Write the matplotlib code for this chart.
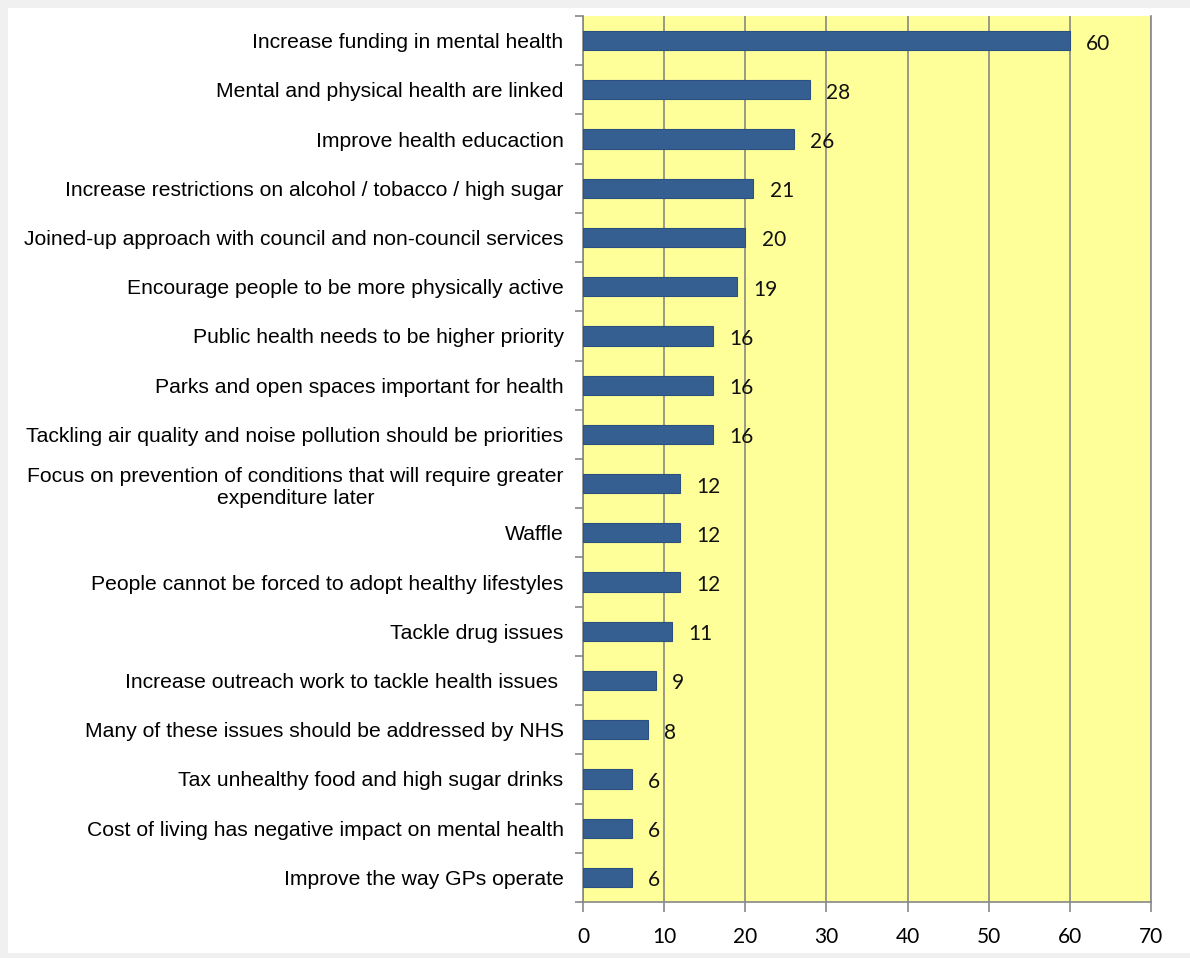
import matplotlib.pyplot as plt
import matplotlib.patches as mpatches
import numpy as np

# 数据
labels = [
    "Increase funding in mental health",
    "Mental and physical health are linked",
    "Improve health educaction",
    "Increase restrictions on alcohol / tobacco / high sugar",
    "Joined-up approach with council and non-council services",
    "Encourage people to be more physically active",
    "Public health needs to be higher priority",
    "Parks and open spaces important for health",
    "Tackling air quality and noise pollution should be priorities",
    "Focus on prevention of conditions that will require greater\nexpenditure later",
    "Waffle",
    "People cannot be forced to adopt healthy lifestyles",
    "Tackle drug issues",
    "Increase outreach work to tackle health issues ",
    "Many of these issues should be addressed by NHS",
    "Tax unhealthy food and high sugar drinks",
    "Cost of living has negative impact on mental health",
    "Improve the way GPs operate",
]
values = [60, 28, 26, 21, 20, 19, 16, 16, 16, 12, 12, 12, 11, 9, 8, 6, 6, 6]
xticks = [0, 10, 20, 30, 40, 50, 60, 70]

fig = plt.figure(figsize=(11.9, 9.58), dpi=100, facecolor='#f0f0f0')
# 白色面板（放在坐标轴下面）
fig.patches.append(mpatches.Rectangle((8/1190, 5/958), 1 - 8/1190, 1 - 13/958,
                                      transform=fig.transFigure, facecolor='white',
                                      edgecolor='none', zorder=-5))

ax = fig.add_axes([583/1190, 56/958, (1151-583)/1190, (942-56)/958])
ax.set_facecolor('#ffff99')

y = np.arange(len(values))
ax.barh(y, values, height=0.39, color='#355f91', edgecolor='#2c5080', linewidth=0.8, zorder=3)

ax.set_ylim(len(values) - 0.5, -0.5)
ax.set_xlim(0, 70)

# 数值标签
for i, v in enumerate(values):
    ax.text(v + 2.0, i + 0.06, str(v), va='center', ha='left', fontsize=15,
            family='Lato', color='#111111', zorder=4)

# 刻度
ax.set_xticks(xticks)
ax.set_xticklabels([str(t) for t in xticks], fontsize=15, family='Lato')
ax.set_yticks(y)
ax.set_yticklabels(labels, fontsize=15.2, family='Liberation Sans', multialignment='center')
ax.set_yticks(np.arange(len(values) + 1) - 0.5, minor=True)
ax.tick_params(axis='y', which='major', length=0, pad=14)
ax.tick_params(axis='y', which='minor', length=6, color='#888888', width=1.2)
ax.tick_params(axis='x', which='major', length=7, color='#888888', width=1.2, pad=11)

ax.grid(axis='x', color='#888888', linewidth=1.2, zorder=1)
for s in ['left', 'bottom', 'right']:
    ax.spines[s].set_color('#888888')
    ax.spines[s].set_linewidth(1.2)
ax.spines['top'].set_visible(False)

fig.savefig('out.png', dpi=100, facecolor=fig.get_facecolor())
